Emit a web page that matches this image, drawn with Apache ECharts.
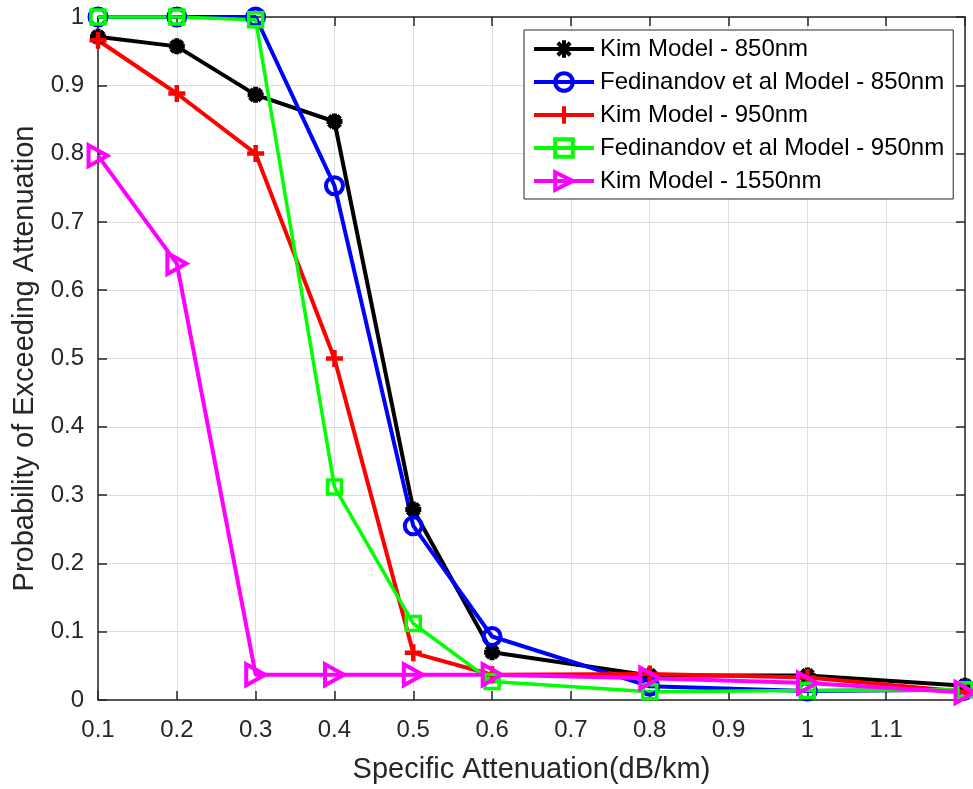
<!DOCTYPE html>
<html>
<head>
<meta charset="utf-8">
<script src="https://cdn.jsdelivr.net/npm/echarts@6/dist/echarts.min.js"></script>
<style>
html,body{margin:0;padding:0;background:#fff;}
#chart{width:973px;height:789px;}
</style>
</head>
<body>
<div id="chart"></div>
<script>
// ---- data ----
const xValues = [0.1, 0.2, 0.3, 0.4, 0.5, 0.6, 0.8, 1.0, 1.2];
const seriesNames = [
  'Kim Model - 850nm',
  'Fedinandov et al Model - 850nm',
  'Kim Model - 950nm',
  'Fedinandov et al Model - 950nm',
  'Kim Model - 1550nm'
];
const kim850  = [0.971, 0.957, 0.886, 0.847, 0.279, 0.070, 0.036, 0.036, 0.021];
const fed850  = [1.000, 1.000, 1.000, 0.753, 0.255, 0.093, 0.020, 0.013, 0.015];
const kim950  = [0.966, 0.888, 0.800, 0.500, 0.069, 0.037, 0.038, 0.033, 0.012];
const fed950  = [1.000, 1.000, 0.996, 0.312, 0.112, 0.027, 0.012, 0.014, 0.015];
const kim1550 = [0.797, 0.639, 0.037, 0.037, 0.037, 0.037, 0.032, 0.025, 0.011];
const xTickLabels = ['0.1','0.2','0.3','0.4','0.5','0.6','0.7','0.8','0.9','1','1.1',''];
const yTickLabels = ['0','0.1','0.2','0.3','0.4','0.5','0.6','0.7','0.8','0.9','1'];
const xTitle = 'Specific Attenuation(dB/km)';
const yTitle = 'Probability of Exceeding Attenuation';

// ---- styles ----
const colors = ['#000000', '#0000ff', '#ff0000', '#00ff00', '#ff00ff'];
const symbols = [
  'path://M0,-10L0,10M-10,0L10,0M-7.07,-7.07L7.07,7.07M-7.07,7.07L7.07,-7.07',
  'circle',
  'path://M0,-10L0,10M-10,0L10,0',
  'rect',
  'path://M-9,-10L9,0L-9,10Z'
];
const symbolSizes = [16, 17, 17, 14, 21];
const lineWidths = [4, 4, 4, 3.5, 4];
const borderWidths = [5, 4, 4.5, 3.5, 4];
const allData = [kim850, fed850, kim950, fed950, kim1550];

const series = allData.map((vals, i) => ({
  name: seriesNames[i],
  type: 'line',
  data: xValues.map((x, k) => [x, vals[k]]),
  symbol: symbols[i],
  symbolSize: symbolSizes[i],
  symbolKeepAspect: true,
  showAllSymbol: true,
  clip: false,
  lineStyle: { color: colors[i], width: lineWidths[i] },
  itemStyle: { color: 'rgba(0,0,0,0)', borderColor: colors[i], borderWidth: borderWidths[i] },
  emphasis: { disabled: true },
  silent: true
}));

const FONT = '"Liberation Sans", Arial, sans-serif';
const axisCol = '#262626';
const gridCol = '#dedede';

function xFmt(v) {
  const idx = Math.round((v - 0.1) / 0.1);
  return xTickLabels[idx] !== undefined ? xTickLabels[idx] : '';
}
function yFmt(v) {
  const idx = Math.round(v / 0.1);
  return yTickLabels[idx] !== undefined ? yTickLabels[idx] : '';
}

const chart = echarts.init(document.getElementById('chart'), null, { renderer: 'canvas' });
chart.setOption({
  animation: false,
  backgroundColor: '#ffffff',
  grid: { left: 98, top: 17, right: 8, bottom: 87, containLabel: false },
  legend: {
    show: true,
    orient: 'vertical',
    left: 524,
    top: 30,
    data: seriesNames,
    itemWidth: 60,
    itemHeight: 22,
    itemGap: 9,
    padding: [7, 9, 6, 8],
    backgroundColor: '#ffffff',
    borderColor: axisCol,
    borderWidth: 1,
    borderRadius: 0,
    lineStyle: { width: 4 },
    itemStyle: { borderWidth: 4 },
    textStyle: { fontFamily: FONT, fontSize: 24, color: '#000000', padding: [0, 0, 0, 1] },
    selectedMode: false
  },
  xAxis: [{
    type: 'value',
    min: 0.1, max: 1.2, interval: 0.1,
    position: 'bottom',
    name: xTitle,
    nameLocation: 'middle',
    nameGap: 55,
    nameTextStyle: { fontFamily: FONT, fontSize: 29, color: axisCol },
    axisLine: { show: true, onZero: false, lineStyle: { color: axisCol, width: 1.5 } },
    axisTick: { show: true, inside: true, length: 9, lineStyle: { color: axisCol, width: 1.5 } },
    axisLabel: { fontFamily: FONT, fontSize: 24, color: axisCol, margin: 18, formatter: xFmt, showMaxLabel: true },
    splitLine: { show: true, lineStyle: { color: gridCol, width: 1 } }
  }, {
    type: 'value',
    min: 0.1, max: 1.2, interval: 0.1,
    position: 'top',
    axisLine: { show: true, onZero: false, lineStyle: { color: axisCol, width: 1.5 } },
    axisTick: { show: true, inside: true, length: 9, lineStyle: { color: axisCol, width: 1.5 } },
    axisLabel: { show: false },
    splitLine: { show: false }
  }],
  yAxis: [{
    type: 'value',
    min: 0, max: 1, interval: 0.1,
    position: 'left',
    name: yTitle,
    nameLocation: 'middle',
    nameGap: 58,
    nameRotate: 90,
    nameTextStyle: { fontFamily: FONT, fontSize: 29, color: axisCol },
    axisLine: { show: true, onZero: false, lineStyle: { color: axisCol, width: 1.5 } },
    axisTick: { show: true, inside: true, length: 9, lineStyle: { color: axisCol, width: 1.5 } },
    axisLabel: { fontFamily: FONT, fontSize: 24, color: axisCol, margin: 14, formatter: yFmt },
    splitLine: { show: true, lineStyle: { color: gridCol, width: 1 } }
  }, {
    type: 'value',
    min: 0, max: 1, interval: 0.1,
    position: 'right',
    axisLine: { show: true, onZero: false, lineStyle: { color: axisCol, width: 1.5 } },
    axisTick: { show: true, inside: true, length: 9, lineStyle: { color: axisCol, width: 1.5 } },
    axisLabel: { show: false },
    splitLine: { show: false }
  }],
  series: series
});
</script>
</body>
</html>
